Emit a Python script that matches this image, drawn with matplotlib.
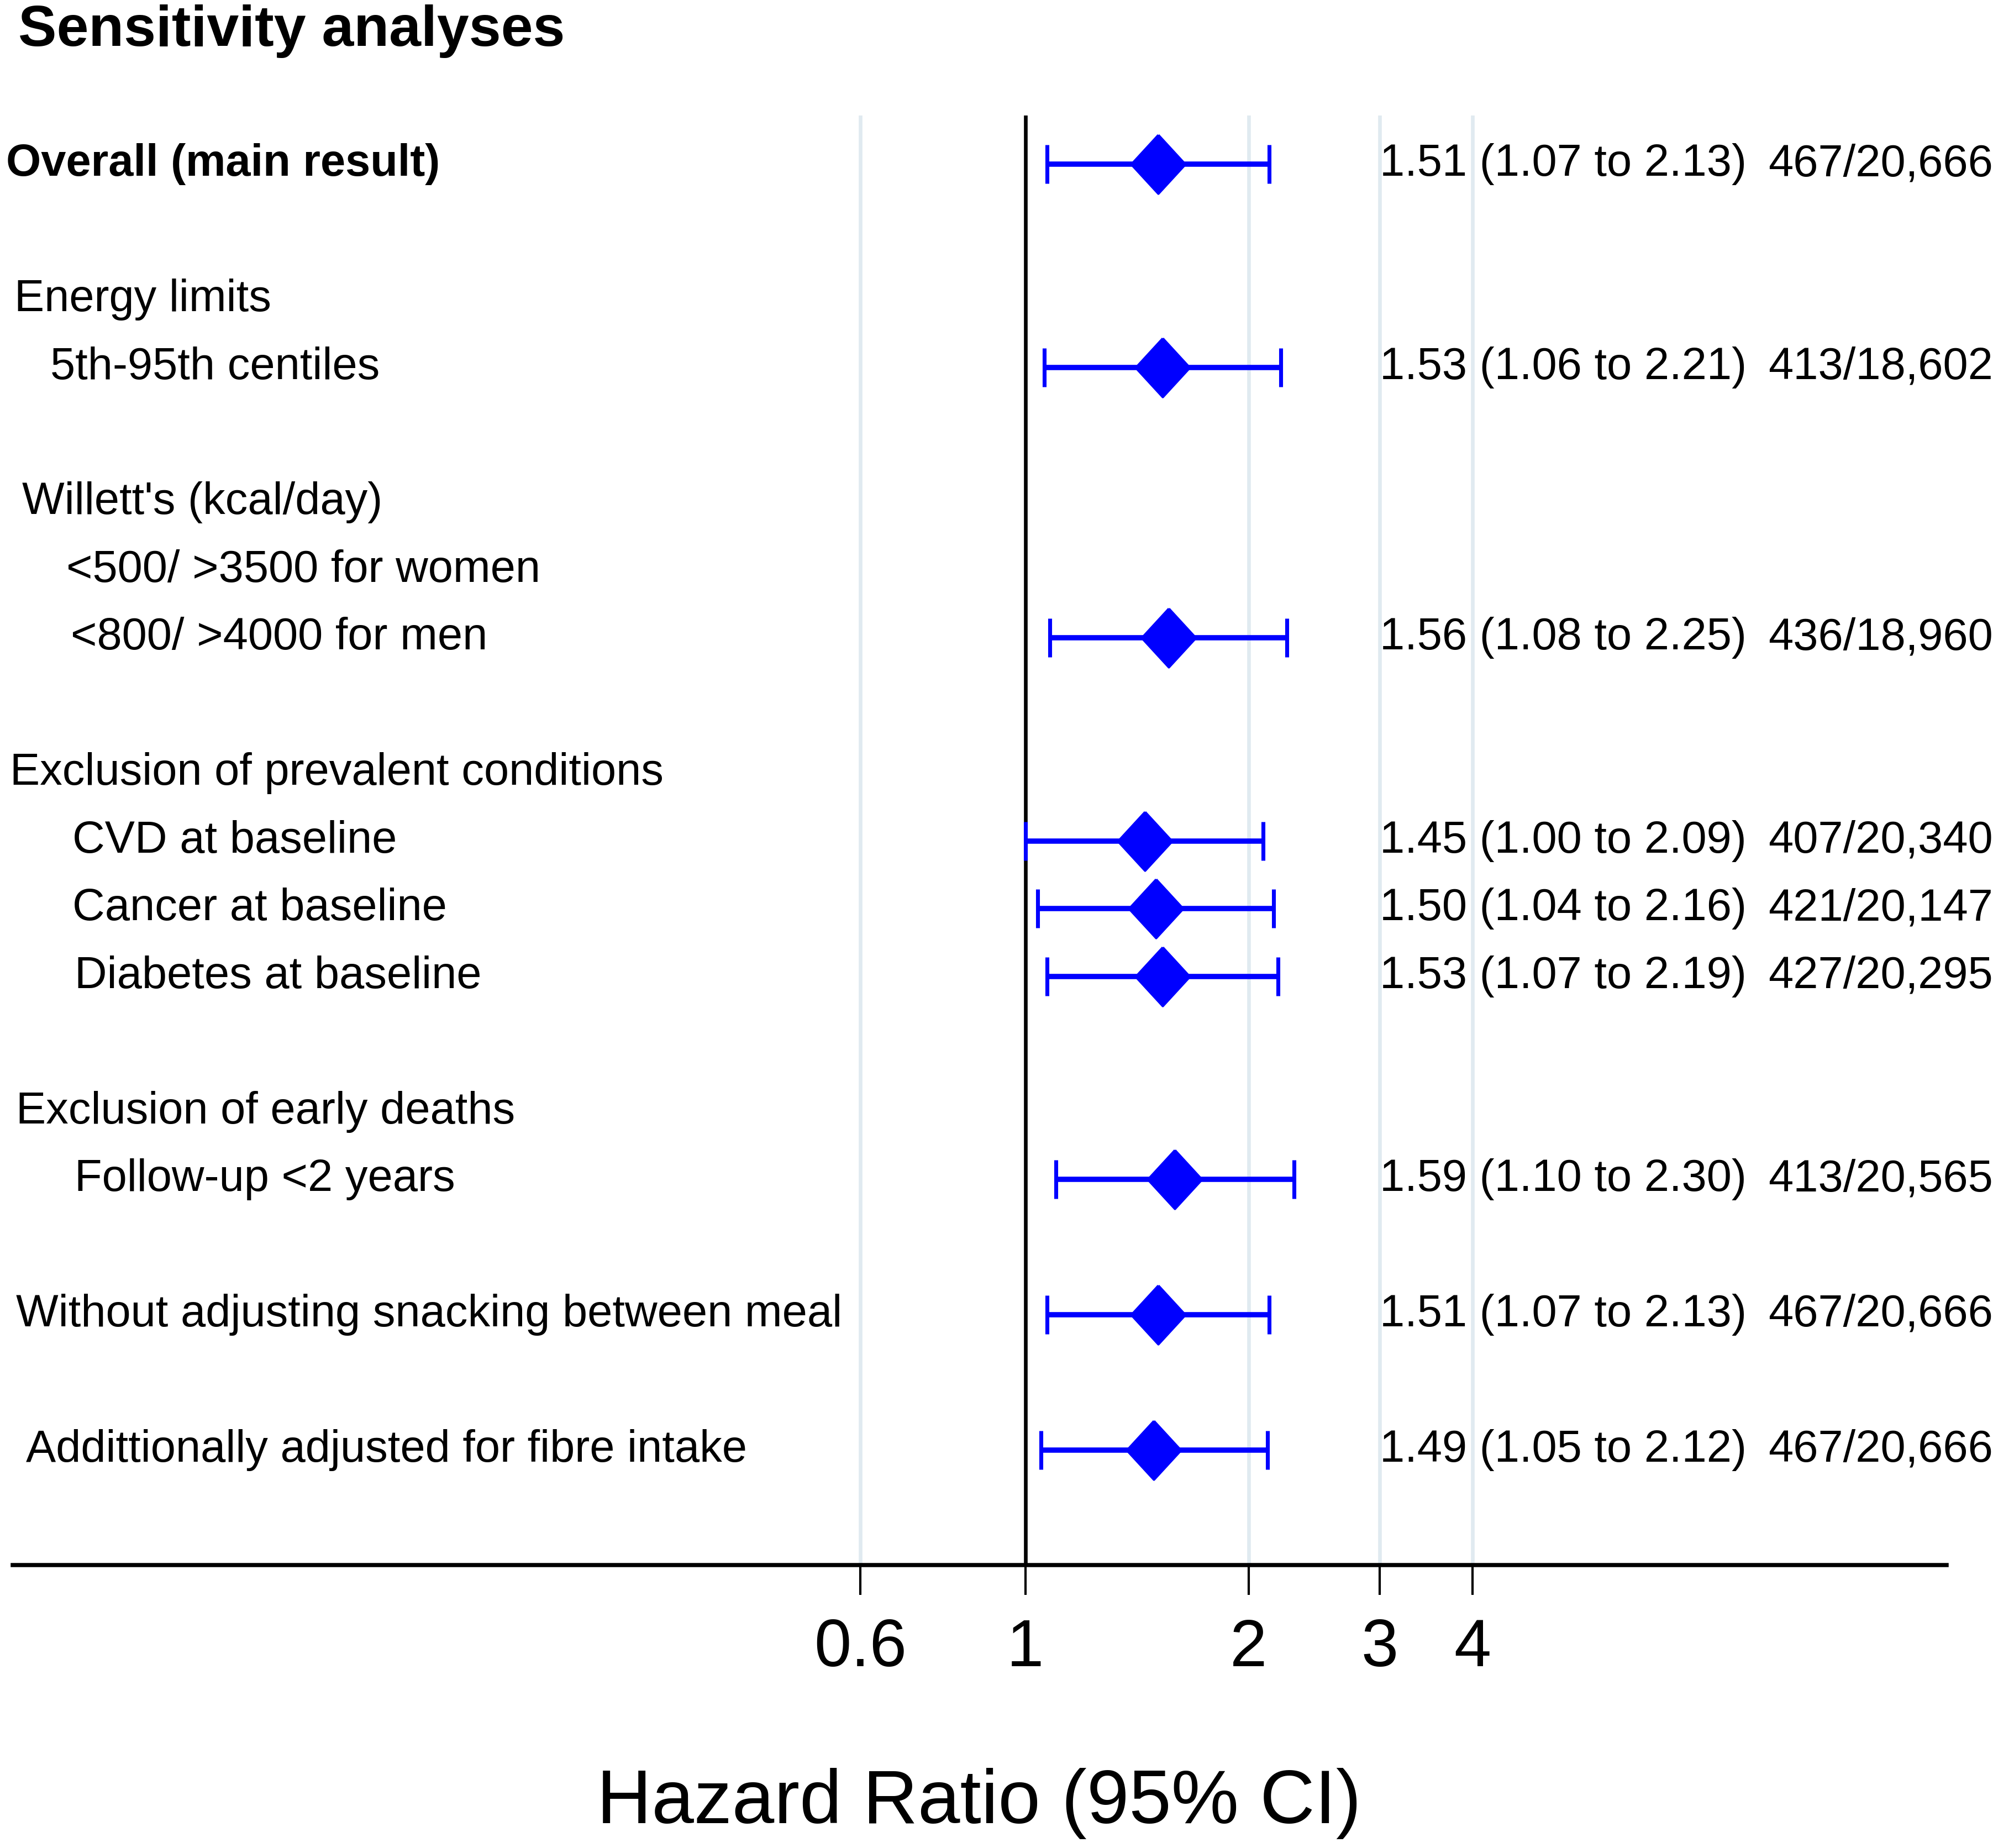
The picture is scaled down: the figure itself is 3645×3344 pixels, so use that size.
import numpy as np
import matplotlib
matplotlib.use('Agg')
from matplotlib import pyplot as plt
from matplotlib import transforms

plt.rcParams['font.family'] = ['Liberation Sans', 'DejaVu Sans']

# row labels and their row index (top = 0)
labels = ["Overall (main result)", "Energy limits", "5th-95th centiles",
          "Willett's (kcal/day)", "<500/ >3500 for women", "<800/ >4000 for men",
          "Exclusion of prevalent conditions", "CVD at baseline", "Cancer at baseline",
          "Diabetes at baseline", "Exclusion of early deaths", "Follow-up <2 years",
          "Without adjusting snacking between meal", "Addittionally adjusted for fibre intake"]
label_rows = [0, 2, 3, 5, 6, 7, 9, 10, 11, 12, 14, 15, 17, 19]

# estimates
est_rows = [0, 3, 7, 10, 11, 12, 15, 17, 19]
hr = [1.51, 1.53, 1.56, 1.45, 1.50, 1.53, 1.59, 1.51, 1.49]
lo = [1.07, 1.06, 1.08, 1.00, 1.04, 1.07, 1.10, 1.07, 1.05]
hi = [2.13, 2.21, 2.25, 2.09, 2.16, 2.19, 2.30, 2.13, 2.12]
events = ["467/20,666", "413/18,602", "436/18,960", "407/20,340", "421/20,147",
          "427/20,295", "413/20,565", "467/20,666", "467/20,666"]

xticks = [0.6, 1, 2, 3, 4]
xticklabels = ["0.6", "1", "2", "3", "4"]

# layout
label_x = [0.003, 0.007, 0.025, 0.011, 0.033, 0.035, 0.005, 0.036, 0.036, 0.037, 0.008, 0.037, 0.008, 0.013]
bold_rows = [0]
fs = 19.5

W, H, DPI = 3645, 3344, 300
fig = plt.figure(figsize=(W / DPI, H / DPI), dpi=DPI)
ax = fig.add_axes([0.0064, 0.1531, 0.96, 0.7844])
ax.set_xscale('log')
ax.set_xlim(0.0433, 17.4)
ax.set_ylim(20.7, -0.72)

for s in ['top', 'left', 'right']:
    ax.spines[s].set_visible(False)
ax.spines['bottom'].set_linewidth(1.8)
ax.set_yticks([])
ax.set_xticks(xticks)
ax.set_xticklabels(xticklabels, fontsize=29)
ax.minorticks_off()
ax.tick_params(axis='x', direction='out', length=13, width=1.0, pad=10)

for g in [0.6, 2, 3, 4]:
    ax.axvline(g, color='#e0eaf0', lw=1.6, zorder=0)
ax.axvline(1, color='black', lw=1.6, zorder=1)

hr_a = np.array(hr)
err = [hr_a - np.array(lo), np.array(hi) - hr_a]
ax.errorbar(hr, est_rows, xerr=err, fmt='none', ecolor='#0000ff', elinewidth=2.3,
            capsize=8.5, capthick=1.7, zorder=2)
diamond = [(0, 1), (0.92, 0), (0, -1), (-0.92, 0), (0, 1)]
ax.plot(hr, est_rows, ls='none', marker=diamond, ms=25.5, color='#0000ff',
        mec='#0000ff', zorder=3)

trans = transforms.blended_transform_factory(fig.transFigure, ax.transData)
for i, (lab, r) in enumerate(zip(labels, label_rows)):
    ax.text(label_x[i], r, lab, transform=trans, ha='left', va='center', fontsize=fs,
            fontweight='bold' if i in bold_rows else 'normal')

for r, h, l, u, n in zip(est_rows, hr, lo, hi, events):
    ax.text(0.685, r, f"{h:.2f} ({l:.2f} to {u:.2f})", transform=trans,
            ha='left', va='center', fontsize=fs)
    ax.text(0.878, r, n, transform=trans, ha='left', va='center', fontsize=fs)

fig.text(0.009, 0.983, "Sensitivity analyses", fontsize=25, fontweight='bold',
         ha='left', va='center')
fig.text(0.486, 0.024, "Hazard Ratio (95% CI)", fontsize=33, ha='center', va='center')

fig.savefig('out.png', dpi=DPI)
